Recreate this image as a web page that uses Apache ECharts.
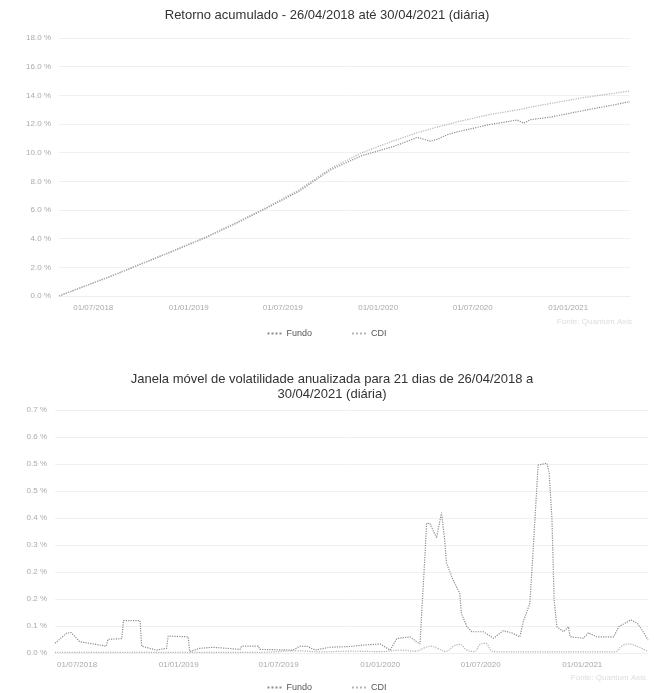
<!DOCTYPE html>
<html>
<head>
<meta charset="utf-8">
<script src="https://cdn.jsdelivr.net/npm/echarts@6/dist/echarts.min.js"></script>
<style>
  html, body { margin: 0; padding: 0; background: #fff; }
  #chart { width: 654px; height: 693px; }
</style>
</head>
<body>
<div id="chart"></div>
<script>
// retorno acumulado (%)
var retDates = ['2018-04-26', '2018-06-01', '2018-08-01', '2018-10-01', '2018-12-01', '2019-02-01',
    '2019-04-01', '2019-06-01', '2019-08-01', '2019-10-01', '2019-12-01', '2020-02-01', '2020-03-01',
    '2020-03-16', '2020-04-01', '2020-04-10', '2020-04-25', '2020-05-12', '2020-06-01', '2020-08-01',
    '2020-09-25', '2020-10-07', '2020-10-20', '2020-12-01', '2021-02-01', '2021-04-01', '2021-04-30']
var retFundo = [0, 0.5, 1.33, 2.22, 3.12, 4.05, 5.05, 6.15, 7.3, 8.8, 9.8, 10.45, 10.85,
    11.07, 10.9, 10.8, 10.95, 11.24, 11.45, 11.95, 12.28, 12.05, 12.3, 12.5, 12.95, 13.35, 13.56]
var retCdi = [0, 0.5, 1.35, 2.25, 3.15, 4.1, 5.1, 6.2, 7.4, 8.9, 10.0, 10.85, 11.2,
    11.4, 11.55, 11.65, 11.8, 11.95, 12.15, 12.65, 12.98, 13.07, 13.18, 13.45, 13.85, 14.15, 14.31]

// volatilidade 21 dias (%)
var volFundoDates = ['2018-05-22', '2018-06-12', '2018-06-20', '2018-07-06', '2018-07-24', '2018-08-11',
    '2018-08-23', '2018-08-26', '2018-09-20', '2018-09-23', '2018-10-23', '2018-10-26', '2018-11-22',
    '2018-12-10', '2018-12-13', '2019-01-18', '2019-01-21', '2019-02-08', '2019-03-04', '2019-04-22',
    '2019-04-25', '2019-05-25', '2019-05-28', '2019-07-27', '2019-08-09', '2019-08-23', '2019-09-05',
    '2019-10-02', '2019-11-07', '2019-12-01', '2020-01-01', '2020-01-19', '2020-01-31', '2020-02-24',
    '2020-03-07', '2020-03-13', '2020-03-22', '2020-03-25', '2020-03-31', '2020-04-12', '2020-04-21',
    '2020-04-27', '2020-04-30', '2020-05-12', '2020-05-24', '2020-05-27', '2020-06-06', '2020-06-15',
    '2020-07-06', '2020-07-24', '2020-08-11', '2020-08-26', '2020-09-10', '2020-09-16', '2020-09-28',
    '2020-10-04', '2020-10-10', '2020-10-13', '2020-10-29', '2020-11-02', '2020-11-07', '2020-11-11',
    '2020-11-16', '2020-11-28', '2020-12-07', '2020-12-10', '2021-01-03', '2021-01-12', '2021-01-27',
    '2021-02-27', '2021-03-08', '2021-03-30', '2021-04-11', '2021-04-23', '2021-04-30']
var volFundo = [0.027, 0.055, 0.057, 0.031, 0.027, 0.022,
    0.019, 0.038, 0.04, 0.09, 0.09, 0.019, 0.008,
    0.013, 0.047, 0.045, 0.004, 0.013, 0.016, 0.01,
    0.019, 0.019, 0.01, 0.008, 0.019, 0.018, 0.008,
    0.016, 0.018, 0.022, 0.025, 0.008, 0.04, 0.045,
    0.031, 0.025, 0.27, 0.36, 0.36, 0.32, 0.39,
    0.31, 0.25, 0.203, 0.166, 0.11, 0.073, 0.059,
    0.059, 0.041, 0.062, 0.056, 0.045, 0.087, 0.138,
    0.286, 0.444, 0.522, 0.527, 0.5, 0.374, 0.147,
    0.073, 0.059, 0.073, 0.045, 0.041, 0.056, 0.045,
    0.045, 0.073, 0.092, 0.082, 0.055, 0.036]
var volCdiDates = ['2018-05-22', '2019-06-01', '2019-08-01', '2019-09-15', '2019-11-01', '2020-01-01',
    '2020-02-10', '2020-03-05', '2020-03-22', '2020-04-02', '2020-04-15', '2020-04-28', '2020-05-14',
    '2020-05-24', '2020-06-06', '2020-06-20', '2020-06-30', '2020-07-10', '2020-07-22', '2020-08-15',
    '2021-03-01', '2021-03-14', '2021-03-26', '2021-04-08', '2021-04-30']
var volCdi = [0.002, 0.002, 0.006, 0.003, 0.005, 0.004,
    0.008, 0.005, 0.015, 0.019, 0.012, 0.004, 0.02,
    0.024, 0.008, 0.004, 0.024, 0.027, 0.005, 0.003,
    0.003, 0.02, 0.025, 0.02, 0.004]

var xTicks = ['2018-07-01', '2019-01-01', '2019-07-01', '2020-01-01', '2020-07-01', '2021-01-01']

function ts(s) {
    return new Date(s + 'T00:00:00').getTime()
}
function pairs(d, v) {
    return d.map(function (x, i) { return [ts(x), v[i]] })
}
function fmtDate(val) {
    var d = new Date(val)
    var dd = ('0' + d.getDate()).slice(-2)
    var mm = ('0' + (d.getMonth() + 1)).slice(-2)
    return dd + '/' + mm + '/' + d.getFullYear()
}
var tickValues = xTicks.map(ts)

var labelStyle = { color: '#aaa', fontSize: 8, fontFamily: 'Liberation Sans' }
var gridLine = { show: true, lineStyle: { color: '#f0f0f0' } }
var legendText = { color: '#555', fontSize: 9, fontFamily: 'Liberation Sans' }
// icone pontilhado da legenda
var dotIcon = 'path://M0,0h2v2h-2z M4,0h2v2h-2z M8,0h2v2h-2z M12,0h2v2h-2z'

function xAxisFor(gridIndex, min) {
    return {
        type: 'value',
        gridIndex: gridIndex,
        min: ts(min),
        max: ts('2021-04-30'),
        axisLine: { lineStyle: { color: '#eeeeee' } },
        axisTick: { show: false },
        splitLine: { show: false },
        axisLabel: Object.assign({
            customValues: tickValues,
            formatter: fmtDate,
            margin: 8
        }, labelStyle)
    }
}

var chart = echarts.init(document.getElementById('chart'))
var option = {
    backgroundColor: '#fff',
    animation: false,
    title: [
        {
            text: 'Retorno acumulado - 26/04/2018 até 30/04/2021 (diária)',
            left: 'center', top: 4,
            textStyle: { fontSize: 13, fontWeight: 'normal', color: '#333', fontFamily: 'Liberation Sans' }
        },
        {
            text: 'Janela móvel de volatilidade anualizada para 21 dias de 26/04/2018 a\n30/04/2021 (diária)',
            left: 327, top: 367, textAlign: 'center',
            textStyle: { fontSize: 13, fontWeight: 'normal', color: '#333', lineHeight: 15, fontFamily: 'Liberation Sans' }
        }
    ],
    legend: [
        {
            data: ['Fundo', 'CDI'], top: 324, left: 'center', itemGap: 40,
            icon: dotIcon, itemWidth: 14, itemHeight: 2, textStyle: legendText
        },
        {
            data: ['Fundo', 'CDI'], top: 678, left: 'center', itemGap: 40,
            icon: dotIcon, itemWidth: 14, itemHeight: 2, textStyle: legendText
        }
    ],
    grid: [
        { left: 59, right: 24, top: 38, height: 258 },
        { left: 55, right: 6, top: 410, height: 243 }
    ],
    xAxis: [xAxisFor(0, '2018-04-26'), xAxisFor(1, '2018-05-22')],
    yAxis: [
        {
            type: 'value', gridIndex: 0, min: 0, max: 18, interval: 2,
            axisLine: { show: false }, axisTick: { show: false },
            splitLine: gridLine,
            axisLabel: Object.assign({
                formatter: function (v) { return v.toFixed(1) + ' %' }
            }, labelStyle)
        },
        {
            type: 'value', gridIndex: 1, min: 0, max: 0.675, interval: 0.075,
            axisLine: { show: false }, axisTick: { show: false },
            splitLine: gridLine,
            axisLabel: Object.assign({
                formatter: function (v) { return (Math.round(v * 10 + 1e-9) / 10).toFixed(1) + ' %' }
            }, labelStyle)
        }
    ],
    graphic: [
        { type: 'text', right: 22, top: 318, style: { text: 'Fonte: Quantum Axis', fill: '#ddd', fontSize: 8 } },
        { type: 'text', right: 8, top: 674, style: { text: 'Fonte: Quantum Axis', fill: '#ddd', fontSize: 8 } }
    ],
    series: [
        {
            name: 'Fundo', type: 'line', xAxisIndex: 0, yAxisIndex: 0, symbol: 'none',
            color: '#8c8c8c', lineStyle: { width: 1.2, type: 'dotted' },
            data: pairs(retDates, retFundo)
        },
        {
            name: 'CDI', type: 'line', xAxisIndex: 0, yAxisIndex: 0, symbol: 'none',
            color: '#b4b4b4', lineStyle: { width: 1.2, type: 'dotted' },
            data: pairs(retDates, retCdi)
        },
        {
            name: 'Fundo', type: 'line', xAxisIndex: 1, yAxisIndex: 1, symbol: 'none',
            color: '#8c8c8c', lineStyle: { width: 1.2, type: 'dotted' },
            data: pairs(volFundoDates, volFundo)
        },
        {
            name: 'CDI', type: 'line', xAxisIndex: 1, yAxisIndex: 1, symbol: 'none', smooth: 0.4,
            color: '#b4b4b4', lineStyle: { width: 1.2, type: 'dotted' },
            data: pairs(volCdiDates, volCdi)
        }
    ]
}
chart.setOption(option)
</script>
</body>
</html>
